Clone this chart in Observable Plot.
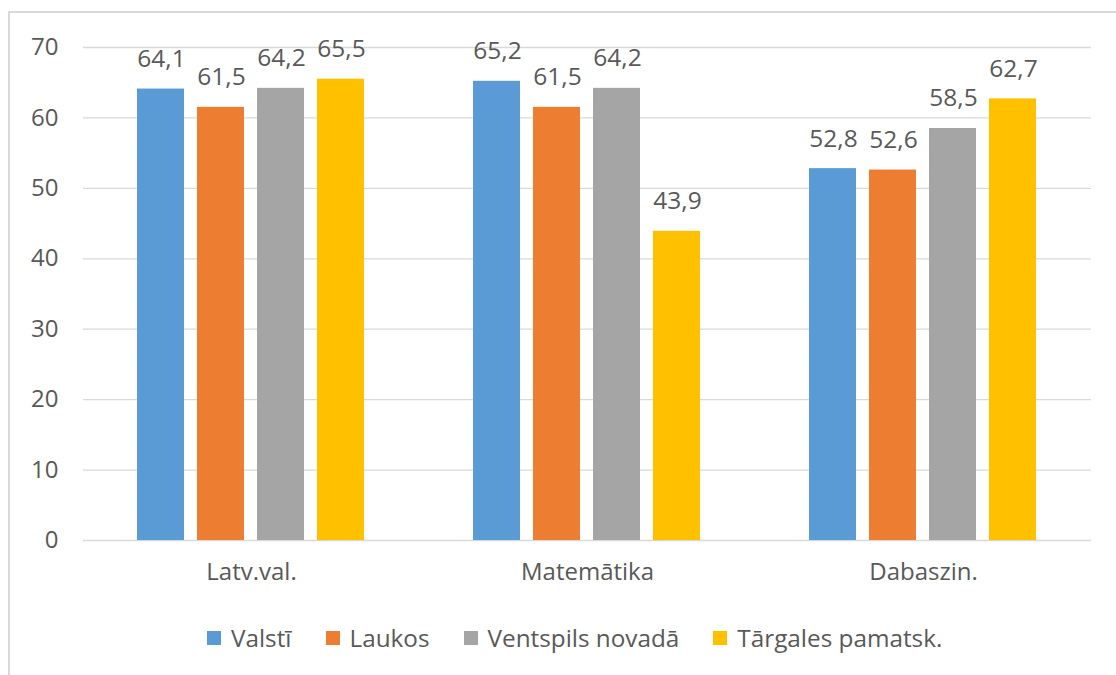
<!DOCTYPE html>
<html>
<head>
<meta charset="utf-8">
<script src="https://cdn.jsdelivr.net/npm/d3@7"></script>
<script src="https://cdn.jsdelivr.net/npm/@observablehq/plot@0.6"></script>
<style>
  html, body { margin: 0; padding: 0; background: #fff; overflow: hidden; }
  body { width: 1116px; height: 675px; position: relative; font-family: "Open Sans", sans-serif; }
  #frame { position: absolute; left: 8px; top: 11px; width: 1130px; height: 700px; border: 2px solid #d9d9d9; box-sizing: border-box; }
  #chart { position: absolute; left: 0; top: 0; }
  #legend { position: absolute; left: 207px; top: 620px; display: flex; align-items: center; font-size: 24.3px; line-height: 36px; color: #595959; white-space: nowrap; }
  #legend .item { display: flex; align-items: center; margin-right: 34px; }
  #legend .sw { width: 14px; height: 14px; margin-right: 10px; }
</style>
</head>
<body>
<div id="frame"></div>
<div id="chart"></div>
<div id="legend"></div>
<script>
const categories = ["Latv.val.", "Matemātika", "Dabaszin."];
const series = ["Valstī", "Laukos", "Ventspils novadā", "Tārgales pamatsk."];
const valsti = [64.1, 65.2, 52.8];
const laukos = [61.5, 61.5, 52.6];
const ventspils = [64.2, 64.2, 58.5];
const targales = [65.5, 43.9, 62.7];
const colors = ["#5B9BD5", "#ED7D31", "#A5A5A5", "#FFC000"];
const yTicks = [0, 10, 20, 30, 40, 50, 60, 70];

const seriesValues = [valsti, laukos, ventspils, targales];
const data = [];
categories.forEach((c, i) => {
  series.forEach((s, j) => {
    data.push({category: c, series: s, value: seriesValues[j][i]});
  });
});
const fmt = v => v.toFixed(1).replace(".", ",");

const chart = Plot.plot({
  width: 1116,
  height: 600,
  marginLeft: 83,
  marginRight: 25,
  marginTop: 47,
  marginBottom: 60,
  style: {fontFamily: "Open Sans, sans-serif", fontSize: "24px", color: "#595959", background: "transparent"},
  fx: {domain: categories, padding: 0, label: null},
  x: {domain: series, paddingInner: 0.23, paddingOuter: 0.87, axis: null},
  y: {domain: [0, 70], label: null},
  color: {domain: series, range: colors},
  marks: [
    Plot.gridY(yTicks, {stroke: "#d9d9d9", strokeOpacity: 1, strokeWidth: 1.3, facet: false}),
    Plot.axisY(yTicks, {tickSize: 0, tickPadding: 25, fontSize: 24, fill: "#595959", label: null}),
    Plot.axisFx({anchor: "bottom", tickSize: 0, tickPadding: 22, fontSize: 24, fill: "#595959", label: null}),
    Plot.barY(data, {fx: "category", x: "series", y: "value", fill: "series", insetLeft: -1}),
    Plot.text(data, {fx: "category", x: "series", y: "value", text: d => fmt(d.value), lineAnchor: "bottom", dy: -22, fontSize: 24.5, fill: "#595959"})
  ]
});
document.getElementById("chart").appendChild(chart);

const legend = document.getElementById("legend");
series.forEach((s, j) => {
  const item = document.createElement("div");
  item.className = "item";
  const sw = document.createElement("div");
  sw.className = "sw";
  sw.style.background = colors[j];
  const label = document.createElement("span");
  label.textContent = s;
  item.appendChild(sw);
  item.appendChild(label);
  legend.appendChild(item);
});
</script>
</body>
</html>
